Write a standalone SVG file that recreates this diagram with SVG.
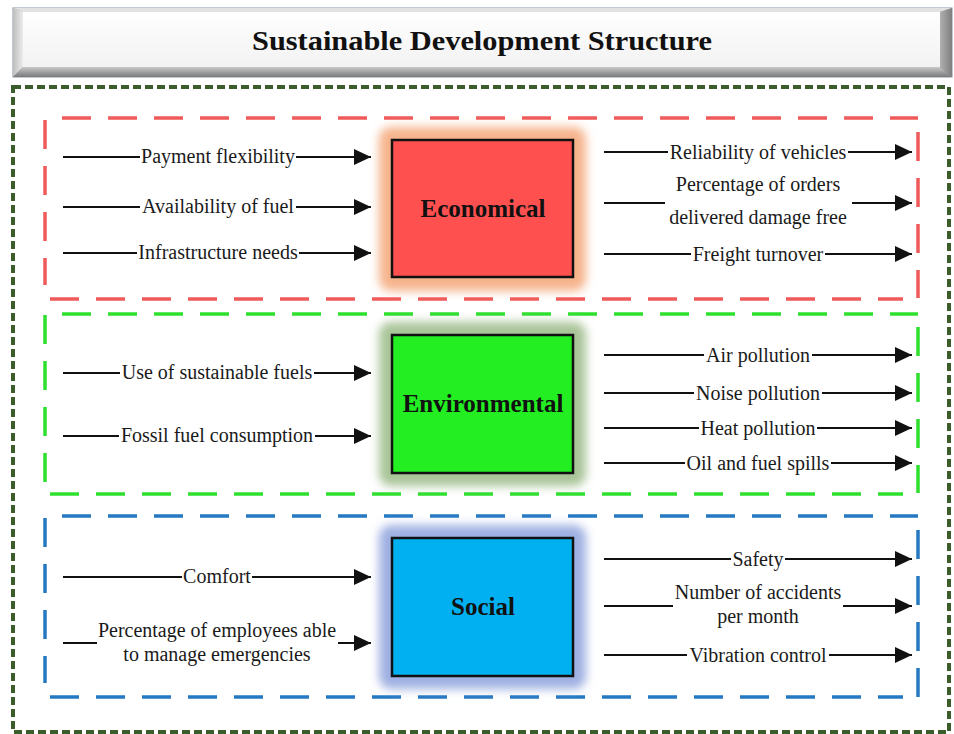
<svg xmlns="http://www.w3.org/2000/svg" width="954" height="734" viewBox="0 0 954 734">
<defs>
<style>
.lbl{font-family:"Liberation Serif","Times New Roman",serif;font-size:20px;fill:#1a1a1a;text-anchor:middle}
.box-t{font-family:"Liberation Serif","Times New Roman",serif;font-size:25px;font-weight:bold;fill:#111;text-anchor:middle}
.arr{stroke:#111;stroke-width:2.2;fill:none}
.arrh{stroke:#111;stroke-width:2.2;fill:none;marker-end:url(#ah)}
.sec{fill:none;stroke-width:3.5;stroke-dasharray:29 17}
.node{stroke:#111;stroke-width:2.5}
</style>
<marker id="ah" markerUnits="userSpaceOnUse" markerWidth="18" markerHeight="16" refX="17" refY="8" orient="auto">
<path d="M0,0 L17,8 L0,16 z" fill="#111"/>
</marker>
<filter id="blur" x="-30%" y="-30%" width="160%" height="160%"><feGaussianBlur stdDeviation="5"/></filter>
<linearGradient id="face" x1="0" y1="0" x2="0" y2="1"><stop offset="0" stop-color="#ffffff"/><stop offset="1" stop-color="#f2f2f2"/></linearGradient>
<linearGradient id="bot" x1="0" y1="0" x2="0" y2="1"><stop offset="0" stop-color="#c8c8c8"/><stop offset="1" stop-color="#7a7a7a"/></linearGradient>
<linearGradient id="lft" x1="0" y1="0" x2="1" y2="0"><stop offset="0" stop-color="#bdbdbd"/><stop offset="1" stop-color="#ececec"/></linearGradient>
<linearGradient id="rgt" x1="0" y1="0" x2="1" y2="0"><stop offset="0" stop-color="#b0b0b0"/><stop offset="1" stop-color="#7e7e7e"/></linearGradient>
</defs>
<rect width="954" height="734" fill="#ffffff"/>

<g id="title">
<rect x="13" y="8" width="939" height="69" fill="#9a9a9a" stroke="#8593a3" stroke-width="1"/>
<polygon points="13,8 952,8 940,12 23,12" fill="#e2e2e2"/>
<polygon points="13,8 23,12 23,67 13,77" fill="url(#lft)"/>
<polygon points="13,77 23,67 940,67 952,77" fill="url(#bot)"/>
<polygon points="952,8 940,12 940,67 952,77" fill="url(#rgt)"/>
<rect x="23" y="12" width="917" height="55" fill="url(#face)"/>
<text x="482" y="50" font-family="'Liberation Serif','Times New Roman',serif" font-size="28" font-weight="bold" fill="#111" text-anchor="middle" textLength="460" lengthAdjust="spacingAndGlyphs">Sustainable Development Structure</text>
</g>

<g id="frame">
<rect x="13" y="87" width="936" height="645" fill="none" stroke="#3b5c2b" stroke-width="4" stroke-dasharray="8 4"/>
</g>

<g id="sections">
<path class="sec" stroke="#f05a5a" d="M62,118 H918 M918,132 V298 M50,299 H903 M45,120 V285"/>
<path class="sec" stroke="#2ee02e" d="M62,314 H918 M918,327 V493 M50,494 H903 M45,315 V482"/>
<path class="sec" stroke="#2479c2" d="M62,516 H918 M918,530 V697 M50,697 H903 M45,518 V683"/>
</g>

<g id="economical">
<rect x="379" y="127" width="207" height="164" rx="12" fill="#f6b48c" filter="url(#blur)"/>
<rect class="node" x="392" y="140" width="181" height="137" fill="#ff5050"/>
<text class="box-t" x="483" y="217">Economical</text>
</g>
<g id="environmental">
<rect x="379" y="322" width="207" height="164" rx="12" fill="#a9c498" filter="url(#blur)"/>
<rect class="node" x="392" y="335" width="181" height="138" fill="#22ee22"/>
<text class="box-t" x="483" y="412">Environmental</text>
</g>
<g id="social">
<rect x="379" y="525" width="207" height="164" rx="12" fill="#9fb0e2" filter="url(#blur)"/>
<rect class="node" x="392" y="538" width="181" height="138" fill="#00b0f0"/>
<text class="box-t" x="483" y="615">Social</text>
</g>

<g id="connectors">
<path class="arr" d="M63,157 H140"/><path class="arrh" d="M296,157 H371"/>
<path class="arr" d="M63,207 H140"/><path class="arrh" d="M296,207 H371"/>
<path class="arr" d="M63,253 H137"/><path class="arrh" d="M299,253 H371"/>
<path class="arr" d="M604,152 H668"/><path class="arrh" d="M848,152 H912"/>
<path class="arr" d="M604,203 H665"/><path class="arrh" d="M852,203 H912"/>
<path class="arr" d="M604,254 H691"/><path class="arrh" d="M825,254 H912"/>
<path class="arr" d="M63,373 H120"/><path class="arrh" d="M314,373 H371"/>
<path class="arr" d="M63,436 H119"/><path class="arrh" d="M315,436 H371"/>
<path class="arr" d="M604,355 H704"/><path class="arrh" d="M812,355 H912"/>
<path class="arr" d="M604,393 H694"/><path class="arrh" d="M822,393 H912"/>
<path class="arr" d="M604,428 H699"/><path class="arrh" d="M817,428 H912"/>
<path class="arr" d="M604,463 H685"/><path class="arrh" d="M831,463 H912"/>
<path class="arr" d="M63,577 H182"/><path class="arrh" d="M252,577 H371"/>
<path class="arr" d="M63,643 H97"/><path class="arrh" d="M338,643 H371"/>
<path class="arr" d="M604,559 H731"/><path class="arrh" d="M785,559 H912"/>
<path class="arr" d="M604,606 H673"/><path class="arrh" d="M843,606 H912"/>
<path class="arr" d="M604,655 H687"/><path class="arrh" d="M829,655 H912"/>
</g>

<g id="labels">
<text class="lbl" x="218" y="163">Payment flexibility</text>
<text class="lbl" x="218" y="213">Availability of fuel</text>
<text class="lbl" x="218" y="259">Infrastructure needs</text>
<text class="lbl" x="758" y="158.5">Reliability of vehicles</text>
<text class="lbl" x="758" y="191">Percentage of orders</text>
<text class="lbl" x="758" y="224">delivered damage free</text>
<text class="lbl" x="758" y="260.5">Freight turnover</text>
<text class="lbl" x="217" y="379">Use of sustainable fuels</text>
<text class="lbl" x="217" y="442">Fossil fuel consumption</text>
<text class="lbl" x="758" y="361.5">Air pollution</text>
<text class="lbl" x="758" y="399.5">Noise pollution</text>
<text class="lbl" x="758" y="434.5">Heat pollution</text>
<text class="lbl" x="758" y="469.5">Oil and fuel spills</text>
<text class="lbl" x="217" y="583">Comfort</text>
<text class="lbl" x="217" y="637">Percentage of employees able</text>
<text class="lbl" x="217" y="661">to manage emergencies</text>
<text class="lbl" x="758" y="565.5">Safety</text>
<text class="lbl" x="758" y="599">Number of accidents</text>
<text class="lbl" x="758" y="623">per month</text>
<text class="lbl" x="758" y="661.5">Vibration control</text>
</g>
</svg>
